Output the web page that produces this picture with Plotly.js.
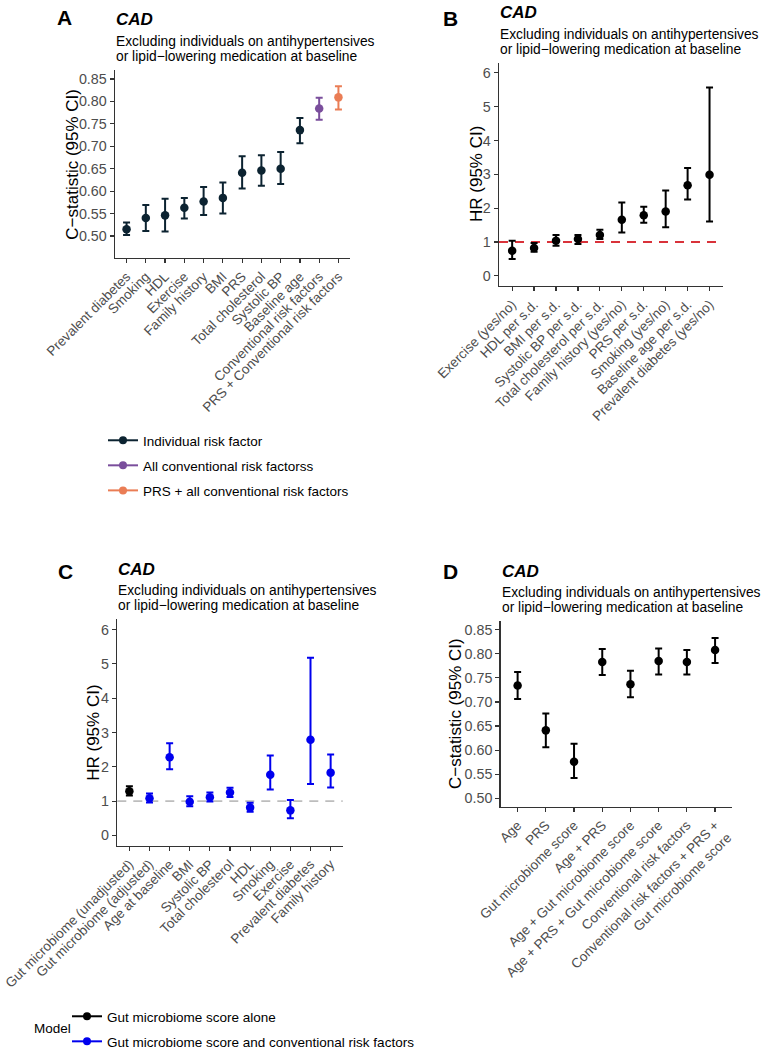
<!DOCTYPE html>
<html>
<head>
<meta charset="utf-8">
<script src="https://cdn.plot.ly/plotly-3.0.1.min.js"></script>
<style>html,body{margin:0;padding:0;background:#fff;}#chart{width:767px;height:1062px;}</style>
</head>
<body>
<div id="chart"></div>
<script>
// ---------- Panel A: C-statistic per risk factor ----------
const aCats = ['Prevalent diabetes','Smoking','HDL','Exercise','Family history','BMI','PRS','Total cholesterol','Systolic BP','Baseline age','Conventional risk factors','PRS + Conventional risk factors'];
const aEst = [0.515,0.540,0.546,0.563,0.577,0.585,0.641,0.646,0.650,0.736,0.784,0.809];
const aLo  = [0.502,0.511,0.510,0.539,0.547,0.550,0.606,0.612,0.616,0.707,0.759,0.782];
const aHi  = [0.530,0.569,0.583,0.585,0.609,0.619,0.678,0.680,0.687,0.763,0.808,0.834];
const aGroup = ['Individual risk factor','Individual risk factor','Individual risk factor','Individual risk factor','Individual risk factor','Individual risk factor','Individual risk factor','Individual risk factor','Individual risk factor','Individual risk factor','All conventional risk factorss','PRS + all conventional risk factors'];
const aGroupNames = ['Individual risk factor','All conventional risk factorss','PRS + all conventional risk factors'];

// ---------- Panel B: HR per risk factor ----------
const bCats = ['Exercise (yes/no)','HDL per s.d.','BMI per s.d.','Systolic BP per s.d.','Total cholesterol per s.d.','Family history (yes/no)','PRS per s.d.','Smoking (yes/no)','Baseline age per s.d.','Prevalent diabetes (yes/no)'];
const bEst = [0.74,0.82,1.04,1.09,1.21,1.66,1.79,1.90,2.68,2.99];
const bLo  = [0.50,0.71,0.89,0.94,1.09,1.28,1.57,1.44,2.26,1.61];
const bHi  = [1.04,0.97,1.21,1.21,1.36,2.17,2.04,2.52,3.19,5.57];
const bRef = 1;

// ---------- Panel C: HR, gut microbiome model ----------
const cCats = ['Gut microbiome (unadjusted)','Gut microbiome (adjusted)','Age at baseline','BMI','Systolic BP','Total cholesterol','HDL','Smoking','Exercise','Prevalent diabetes','Family history'];
const cEst = [1.29,1.08,2.28,0.98,1.11,1.25,0.81,1.77,0.73,2.79,1.83];
const cLo  = [1.16,0.96,1.93,0.85,0.99,1.12,0.69,1.34,0.50,1.50,1.40];
const cHi  = [1.43,1.22,2.69,1.14,1.25,1.39,0.95,2.33,1.03,5.18,2.36];
const cModel = ['Gut microbiome score alone','Gut microbiome score and conventional risk factors','Gut microbiome score and conventional risk factors','Gut microbiome score and conventional risk factors','Gut microbiome score and conventional risk factors','Gut microbiome score and conventional risk factors','Gut microbiome score and conventional risk factors','Gut microbiome score and conventional risk factors','Gut microbiome score and conventional risk factors','Gut microbiome score and conventional risk factors','Gut microbiome score and conventional risk factors'];
const cModelNames = ['Gut microbiome score alone','Gut microbiome score and conventional risk factors'];
const cRef = 1;

// ---------- Panel D: C-statistic per model ----------
const dCats = ['Age','PRS','Gut microbiome score','Age + PRS','Age + Gut microbiome score','Age + PRS + Gut microbiome score','Conventional risk factors','Conventional risk factors + PRS +<br>Gut microbiome score'];
const dEst = [0.734,0.641,0.576,0.783,0.737,0.785,0.783,0.808];
const dLo  = [0.706,0.606,0.542,0.756,0.710,0.757,0.757,0.781];
const dHi  = [0.762,0.676,0.613,0.810,0.765,0.811,0.808,0.833];

const titleMain = 'CAD';
const subtitle1 = 'Excluding individuals on antihypertensives';
const subtitle2 = 'or lipid\u2212lowering medication at baseline';
const cTitle = 'C\u2212statistic (95% CI)';
const hrTitle = 'HR (95% CI)';

// ---------- styling ----------
const W = 767, H = 1062;
const FONT = 'Liberation Sans, Arial, Helvetica, sans-serif';
const aColors = {'Individual risk factor':'#0c2331','All conventional risk factorss':'#7a4e9c','PRS + all conventional risk factors':'#ea7d55'};
const cColors = {'Gut microbiome score alone':'#000000','Gut microbiome score and conventional risk factors':'#0000ee'};

const px = v => v / W;
const py = v => 1 - v / H;
const dom = (a, b) => [a / W, b / W];
const domY = (top, bot) => [1 - bot / H, 1 - top / H];

function errTrace(cats, est, lo, hi, idx, color, xa, ya) {
  const x = idx.map(i => cats[i]);
  const y = idx.map(i => est[i]);
  return {
    type: 'scatter', mode: 'markers', x: x, y: y, xaxis: xa, yaxis: ya,
    marker: {color: color, size: 8.5},
    error_y: {type: 'data', symmetric: false,
      array: idx.map(i => hi[i] - est[i]),
      arrayminus: idx.map(i => est[i] - lo[i]),
      color: color, thickness: 2, width: 3.5},
    showlegend: false, hoverinfo: 'x+y', cliponaxis: false
  };
}
function legendTrace(name, color, leg, grp) {
  return {type: 'scatter', mode: 'lines+markers', x: [null], y: [null], xaxis: 'x', yaxis: 'y',
    name: name, legend: leg, legendgroup: grp, showlegend: true,
    line: {color: color, width: 2}, marker: {color: color, size: 8}};
}

const traces = [];
aGroupNames.forEach(g => {
  const idx = aCats.map((_, i) => i).filter(i => aGroup[i] === g);
  traces.push(errTrace(aCats, aEst, aLo, aHi, idx, aColors[g], 'x', 'y'));
});
traces.push(errTrace(bCats, bEst, bLo, bHi, bCats.map((_, i) => i), '#000000', 'x2', 'y2'));
cModelNames.forEach(m => {
  const idx = cCats.map((_, i) => i).filter(i => cModel[i] === m);
  traces.push(errTrace(cCats, cEst, cLo, cHi, idx, cColors[m], 'x3', 'y3'));
});
traces.push(errTrace(dCats, dEst, dLo, dHi, dCats.map((_, i) => i), '#000000', 'x4', 'y4'));
aGroupNames.forEach((g, i) => traces.push(legendTrace(g, aColors[g], 'legend', 'a' + i)));
cModelNames.forEach((m, i) => traces.push(legendTrace(m, cColors[m], 'legend2', 'c' + i)));

function xAxis(domain, cats, anchor) {
  return {domain: domain, anchor: anchor, type: 'category', categoryorder: 'array', categoryarray: cats,
    range: [-0.6, cats.length - 0.4], showline: true, linecolor: '#333', linewidth: 1.4,
    ticks: 'outside', ticklen: 4, tickwidth: 1.2, tickcolor: '#333', tickangle: -45,
    tickfont: {family: FONT, size: 13.5, color: '#4d4d4d'}, showgrid: false, zeroline: false, automargin: false};
}
function yAxis(domain, range, tickvals, fmt, anchor) {
  return {domain: domain, anchor: anchor, range: range, tickvals: tickvals, tickformat: fmt,
    showline: true, linecolor: '#333', linewidth: 1.4,
    ticks: 'outside', ticklen: 4, tickwidth: 1.2, tickcolor: '#333',
    tickfont: {family: FONT, size: 14.3, color: '#4d4d4d'}, showgrid: false, zeroline: false, automargin: false};
}
const cTicks = [0.50,0.55,0.60,0.65,0.70,0.75,0.80,0.85];
const hrTicks = [0,1,2,3,4,5,6];

const layout = {
  width: W, height: H, margin: {l: 0, r: 0, t: 0, b: 0},
  paper_bgcolor: '#fff', plot_bgcolor: '#fff', font: {family: FONT},
  xaxis:  xAxis(dom(115, 350), aCats, 'y'),
  yaxis:  yAxis(domY(70, 258), [0.451, 0.870], cTicks, '.2f', 'x'),
  xaxis2: xAxis(dom(499, 722.7), bCats, 'y2'),
  yaxis2: yAxis(domY(62.7, 286), [-0.3, 6.3], hrTicks, 'd', 'x2'),
  xaxis3: xAxis(dom(117.3, 342.7), cCats, 'y3'),
  yaxis3: yAxis(domY(619.3, 845.7), [-0.3, 6.3], hrTicks, 'd', 'x3'),
  xaxis4: xAxis(dom(500.7, 732), dCats, 'y4'),
  yaxis4: yAxis(domY(621.3, 806.7), [0.4825, 0.8675], cTicks, '.2f', 'x4'),
  shapes: [
    {type: 'line', xref: 'x2 domain', yref: 'y2', x0: 0, x1: 1, y0: bRef, y1: bRef,
     line: {color: '#d9323a', width: 2, dash: '9px,7px'}, layer: 'below'},
    {type: 'line', xref: 'x3 domain', yref: 'y3', x0: 0, x1: 1, y0: cRef, y1: cRef,
     line: {color: '#bdbdbd', width: 1.6, dash: '9px,7px'}, layer: 'below'}
  ],
  legend: {x: px(103), y: py(425), xanchor: 'left', yanchor: 'top', bgcolor: 'rgba(0,0,0,0)',
    font: {family: FONT, size: 13.5, color: '#000'}, itemwidth: 30, tracegroupgap: 4.5, traceorder: 'grouped'},
  legend2: {x: px(67), y: py(1001), xanchor: 'left', yanchor: 'top', bgcolor: 'rgba(0,0,0,0)',
    font: {family: FONT, size: 13.5, color: '#000'}, itemwidth: 30, tracegroupgap: 4.5, traceorder: 'grouped'},
  annotations: []
};

function addAnn(text, xPx, yPx, size, opts) {
  layout.annotations.push(Object.assign({text: text, xref: 'paper', yref: 'paper', x: px(xPx), y: py(yPx),
    xanchor: 'left', yanchor: 'middle', showarrow: false,
    font: {family: FONT, size: size, color: '#000'}}, opts || {}));
}
// panel letters
addAnn('<b>A</b>', 55, 17.5, 21);
addAnn('<b>B</b>', 441, 18.3, 21);
addAnn('<b>C</b>', 56, 571.7, 21);
addAnn('<b>D</b>', 441, 571.7, 21);
// panel titles
[[115, 70], [499, 62.7], [117.3, 619.3], [500.7, 621.3]].forEach(([l, t]) => {
  addAnn('<b><i>' + titleMain + '</i></b>', l - 1, t - 50, 17);
  addAnn(subtitle1, l - 1, t - 28.5, 13.8);
  addAnn(subtitle2, l - 1, t - 13.5, 13.8);
});
// y-axis titles
addAnn(cTitle, 71.7, 164, 17, {xanchor: 'center', textangle: -90});
addAnn(hrTitle, 476.7, 174.3, 17, {xanchor: 'center', textangle: -90});
addAnn(hrTitle, 93.3, 732.5, 17, {xanchor: 'center', textangle: -90});
addAnn(cTitle, 455, 714, 17, {xanchor: 'center', textangle: -90});
addAnn('Model', 32, 1028, 13.5);

Plotly.newPlot('chart', traces, layout, {staticPlot: true, displayModeBar: false});
</script>
</body>
</html>
